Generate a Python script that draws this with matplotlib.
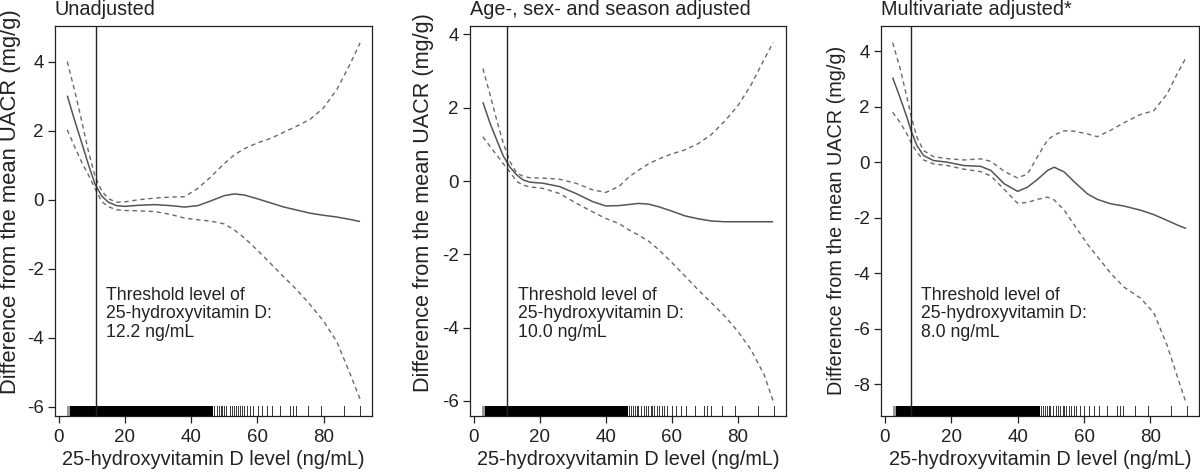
import matplotlib
matplotlib.use("Agg")
import matplotlib.pyplot as plt
import matplotlib.transforms as mtransforms

plt.rcParams['font.family'] = ['Liberation Sans', 'DejaVu Sans']

# ---------------- data ----------------
titles = ["Unadjusted", "Age-, sex- and season adjusted", "Multivariate adjusted*"]
threshold_labels = ["12.2", "10.0", "8.0"]
threshold_pos = [11.4, 10.0, 8.0]

# Panel 1
x1 = [2.6, 5, 7, 9, 11, 13, 15, 17.5, 20, 24, 29, 34, 38, 42, 46, 50, 53, 56, 60, 64, 68, 72, 76, 80, 84, 88, 91]
fit1 = [3.02, 2.25, 1.64, 1.02, 0.45, 0.11, -0.07, -0.17, -0.19, -0.16, -0.14, -0.17, -0.21, -0.17, -0.03,
        0.12, 0.17, 0.14, 0.03, -0.09, -0.21, -0.30, -0.39, -0.45, -0.50, -0.57, -0.63]
up1 = [4.01, 3.10, 2.27, 1.40, 0.68, 0.26, 0.03, -0.07, -0.06, 0.00, 0.05, 0.08, 0.09, 0.33, 0.67,
       1.05, 1.30, 1.48, 1.65, 1.78, 1.96, 2.14, 2.34, 2.67, 3.20, 3.94, 4.55]
lo1 = [2.03, 1.50, 1.08, 0.72, 0.32, -0.05, -0.20, -0.29, -0.31, -0.32, -0.34, -0.43, -0.53, -0.58, -0.62,
       -0.70, -0.87, -1.10, -1.46, -1.85, -2.24, -2.62, -3.05, -3.52, -4.12, -5.05, -5.78]

# Panel 2
x2 = [2.8, 5, 7, 9, 11, 13, 15, 17, 21, 26, 31, 36, 40, 44, 47, 50, 53, 56, 60, 64, 68, 72, 76, 80, 84, 88, 90.7]
fit2 = [2.15, 1.57, 1.12, 0.68, 0.38, 0.17, 0.03, -0.03, -0.06, -0.15, -0.34, -0.56, -0.68, -0.67, -0.64,
        -0.61, -0.63, -0.70, -0.82, -0.95, -1.03, -1.09, -1.11, -1.11, -1.11, -1.11, -1.11]
up2 = [3.07, 2.35, 1.66, 1.03, 0.53, 0.22, 0.13, 0.09, 0.08, 0.05, -0.06, -0.24, -0.31, -0.15, 0.11,
       0.30, 0.47, 0.60, 0.74, 0.85, 1.02, 1.27, 1.63, 2.05, 2.62, 3.32, 3.78]
lo2 = [1.21, 0.94, 0.71, 0.47, 0.25, -0.01, -0.11, -0.16, -0.20, -0.34, -0.60, -0.84, -1.02, -1.16, -1.33,
       -1.48, -1.64, -1.87, -2.22, -2.59, -2.97, -3.32, -3.68, -4.10, -4.60, -5.29, -6.00]

# Panel 3
x3 = [2.4, 4.6, 6.7, 8, 9.7, 11.7, 14.7, 18.8, 23.8, 28.9, 32, 36, 40, 43, 46, 49, 51, 54, 57, 61, 64, 68,
      72, 77, 81, 85, 88, 90.7]
fit3 = [3.05, 2.34, 1.62, 1.12, 0.60, 0.24, 0.06, 0.00, -0.12, -0.15, -0.30, -0.78, -1.05, -0.90, -0.62,
        -0.30, -0.18, -0.35, -0.70, -1.14, -1.34, -1.50, -1.58, -1.73, -1.89, -2.10, -2.26, -2.39]
up3 = [4.31, 3.41, 2.34, 1.65, 0.90, 0.42, 0.20, 0.13, 0.08, 0.12, 0.03, -0.33, -0.57, -0.42, 0.20,
       0.80, 0.98, 1.13, 1.12, 1.02, 0.92, 1.15, 1.42, 1.72, 1.86, 2.46, 3.18, 3.77]
lo3 = [1.80, 1.44, 1.02, 0.70, 0.36, 0.08, -0.06, -0.12, -0.25, -0.34, -0.50, -0.98, -1.48, -1.45, -1.34,
       -1.26, -1.36, -1.72, -2.25, -2.95, -3.40, -4.00, -4.50, -4.90, -5.43, -6.60, -7.70, -8.68]

# Rug (observed 25(OH)D values): dense block spans plus sparse individual ticks
rug_dense_span = (3.5, 46.6)
rug_faint_span = (2.4, 3.5)
rug_ticks = [46.97, 47.8, 48.3, 49.0, 49.4, 49.8, 50.6, 51.6, 52.3, 52.8, 53.6, 54.0, 54.6, 55.4, 56.1,
             56.9, 57.7, 58.7, 60.1, 61.4, 62.9, 64.4, 66.97, 69.8, 70.8, 71.8, 75.2, 79.3, 86.2, 91.0]

xticks = [0, 20, 40, 60, 80]
yticks_list = [[-6, -4, -2, 0, 2, 4], [-6, -4, -2, 0, 2, 4], [-8, -6, -4, -2, 0, 2, 4]]
ylims = [(-6.27, 5.04), (-6.41, 4.23), (-9.15, 4.91)]
xlim = (-1.1, 94.6)

xs = [x1, x2, x3]
fits = [fit1, fit2, fit3]
ups = [up1, up2, up3]
los = [lo1, lo2, lo3]

# ---------------- layout ----------------
W, H = 1200, 472
fig = plt.figure(figsize=(W / 100, H / 100), dpi=100)
boxes = [(55, 372), (470, 786), (881, 1199)]
top_px, bot_px = 26, 416
ylabel_sizes = [15.8, 15.6, 14.3]
ylabel_centers_py = [202, 203, 220]
ylabel_x_px = [11, 424, 836]
text_top_py = 286.7
text_x_px = [106, 518.3, 920.7]

curve_col = "#555555"
band_col = "#6a6a6a"

for i in range(3):
    l, r = boxes[i]
    ax = fig.add_axes([l / W, (H - bot_px) / H, (r - l) / W, (bot_px - top_px) / H])
    ax.set_xlim(*xlim)
    ax.set_ylim(*ylims[i])
    ax.plot(xs[i], fits[i], color=curve_col, lw=1.1, solid_capstyle='butt')
    ax.plot(xs[i], ups[i], color=band_col, lw=1.0, dashes=(3.2, 2.6))
    ax.plot(xs[i], los[i], color=band_col, lw=1.0, dashes=(3.2, 2.6))
    ax.axvline(threshold_pos[i], color="#222222", lw=1.0)

    # rug
    trans = mtransforms.blended_transform_factory(ax.transData, ax.transAxes)
    rug_h = 0.026
    ax.fill_between(list(rug_faint_span), 0, rug_h, transform=trans, color="#9a9a9a", lw=0)
    ax.fill_between(list(rug_dense_span), 0, rug_h, transform=trans, color="#000000", lw=0)
    for t in rug_ticks:
        ax.plot([t, t], [0, rug_h], transform=trans, color="#333333", lw=0.7)

    ax.set_xticks(xticks)
    ax.set_yticks(yticks_list[i])
    ax.set_yticklabels([str(v) for v in yticks_list[i]])
    ax.tick_params(direction='out', length=5, width=0.9, labelsize=13.5, colors="#222222", pad=3)
    ax.tick_params(axis='x', pad=4)
    for s in ax.spines.values():
        s.set_linewidth(0.9)
        s.set_color("#222222")

    ax.set_xlabel("25-hydroxyvitamin D level (ng/mL)", fontsize=14.3, color="#222222", labelpad=3)
    ax.set_title(titles[i], loc='left', fontsize=14.3, color="#222222", pad=8)

    fig.text(ylabel_x_px[i] / W, (H - ylabel_centers_py[i]) / H,
             "Difference from the mean UACR (mg/g)", rotation=90, ha='center', va='center',
             fontsize=ylabel_sizes[i], color="#222222")

    fig.text(text_x_px[i] / W, (H - text_top_py) / H,
             "Threshold level of\n25-hydroxyvitamin D:\n" + threshold_labels[i] + " ng/mL",
             ha='left', va='top', fontsize=12.7, color="#222222", linespacing=1.12)

fig.savefig("out.png", dpi=100)
